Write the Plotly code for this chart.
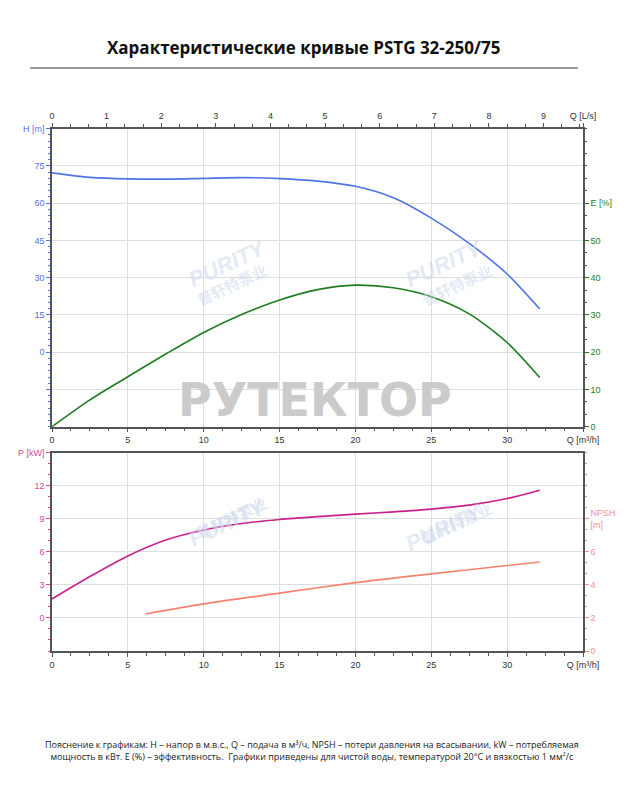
import plotly.graph_objects as go

# Данные кривых, Q в м³/ч
q_h = [0, 1.25, 2.5, 5, 7.5, 10, 12.5, 15, 17.5, 20, 22.5, 25, 27.5, 30, 32.15]
h_m = [72.2, 71.2, 70.4, 69.8, 69.7, 70.0, 70.3, 69.9, 68.9, 66.8, 62.2, 54.0, 43.8, 31.5, 17.4]

q_e = [0, 2.5, 5, 7.5, 10, 12.5, 15, 17.5, 20, 22.5, 25, 27.5, 30, 32.15]
eff = [0, 7.2, 13.4, 19.5, 25.3, 30.1, 34.0, 36.8, 38.0, 37.3, 34.9, 30.3, 22.6, 13.2]

q_p = [0, 2.5, 5, 7.5, 10, 12.5, 15, 17.5, 20, 22.5, 25, 27.5, 30, 32.15]
p_kw = [1.72, 3.76, 5.63, 7.07, 7.98, 8.58, 8.94, 9.2, 9.42, 9.63, 9.88, 10.24, 10.84, 11.6]

q_n = [6.16, 10, 15, 20, 25, 30, 32.15]
npsh = [2.24, 2.85, 3.5, 4.14, 4.67, 5.17, 5.39]

# Подписи осей
q_max = 35
q_ticks = [0, 5, 10, 15, 20, 25, 30, q_max]
q_text = ["0", "5", "10", "15", "20", "25", "30", "Q [m³/h]"]
qls_ticks = [0, 1, 2, 3, 4, 5, 6, 7, 8, 9, q_max / 3.6]
qls_text = ["0", "1", "2", "3", "4", "5", "6", "7", "8", "9", "Q [L/s]"]
h_ticks = [-15, 0, 15, 30, 45, 60, 75, 90]
h_text = ["", "0", "15", "30", "45", "60", "75", "H [m]"]
e_ticks = [0, 10, 20, 30, 40, 50, 60]
e_text = ["0", "10", "20", "30", "40", "50", "E [%]"]
p_ticks = [0, 3, 6, 9, 12, 15]
p_text = ["0", "3", "6", "9", "12", "P [kW]"]
n_ticks = [0, 2, 4, 6, 8]
n_text = ["0", "2", "4", "6", "NPSH<br>[m]"]

title = "Характеристические кривые PSTG 32-250/75"
note = ("Пояснение к графикам: H – напор в м.в.с., Q – подача в м³/ч, NPSH – потери давления на всасывании, kW – потребляемая<br>"
        "мощность в кВт. E (%) – эффективность.  Графики приведены для чистой воды, температурой 20°C и вязкостью 1 мм²/с")

W, H = 632, 800
def px(x):
    return x / W
def py(y):
    return 1 - y / H

BLUE = "#4f74e6"
GREEN = "#1f7d1f"
MAGENTA = "#c8208c"
SALMON = "#f4826f"
AX = "#555555"
GRID = "#dedede"
TF = "Liberation Sans Narrow, Liberation Sans, Arial"
WM = "rgba(205,216,236,0.55)"

fig = go.Figure()

fig.add_trace(go.Scatter(x=q_h, y=h_m, mode="lines", line=dict(color=BLUE, width=1.6, shape="spline", smoothing=0.8),
                         xaxis="x", yaxis="y", hoverinfo="skip"))
fig.add_trace(go.Scatter(x=q_e, y=eff, mode="lines", line=dict(color=GREEN, width=1.6, shape="spline", smoothing=0.8),
                         xaxis="x", yaxis="y2", hoverinfo="skip"))
fig.add_trace(go.Scatter(x=[q / 3.6 for q in q_h], y=h_m, mode="lines", line=dict(width=0), opacity=0,
                         xaxis="x2", yaxis="y", hoverinfo="skip"))
fig.add_trace(go.Scatter(x=q_p, y=p_kw, mode="lines", line=dict(color=MAGENTA, width=1.6, shape="spline", smoothing=0.8),
                         xaxis="x3", yaxis="y3", hoverinfo="skip"))
fig.add_trace(go.Scatter(x=q_n, y=npsh, mode="lines", line=dict(color=SALMON, width=1.6, shape="spline", smoothing=0.8),
                         xaxis="x3", yaxis="y4", hoverinfo="skip"))

dom_x = [px(52), px(583)]
dom_top = [py(426.7), py(128.7)]
dom_bot = [py(651), py(452.7)]

def xax(**kw):
    d = dict(domain=dom_x, range=[0, q_max], tickmode="array", tickvals=q_ticks, ticktext=q_text,
             showline=True, linecolor=AX, linewidth=1.5, ticks="outside", ticklen=4, tickcolor=AX,
             tickfont=dict(family=TF, size=9, color="#333333"), showgrid=True, gridcolor=GRID,
             gridwidth=1, zeroline=False, automargin=False,
             minor=dict(dtick=1.25, tick0=0, ticks="outside", ticklen=3, tickcolor=AX, showgrid=False))
    d.update(kw)
    return d

def yax(ticks, text, rng, color, dtick_minor, **kw):
    d = dict(range=rng, tickmode="array", tickvals=ticks, ticktext=text, showline=True, linecolor=AX,
             linewidth=1.5, ticks="outside", ticklen=4, tickcolor=color, automargin=False,
             tickfont=dict(family=TF, size=9, color=color), zeroline=False,
             minor=dict(dtick=dtick_minor, tick0=0, ticks="outside", ticklen=2, tickcolor=color, showgrid=False))
    d.update(kw)
    return d

fig.update_layout(
    width=W, height=H, margin=dict(l=0, r=0, t=0, b=0, autoexpand=False),
    paper_bgcolor="white", plot_bgcolor="white", showlegend=False,
    xaxis=xax(anchor="y"),
    xaxis2=dict(overlaying="x", anchor="y", side="top", domain=dom_x, range=[0, q_max / 3.6],
                tickmode="array", tickvals=qls_ticks, ticktext=qls_text, showline=True, linecolor=AX,
                linewidth=1.5, ticks="outside", ticklen=4, tickcolor=AX, showgrid=False, zeroline=False,
                tickfont=dict(family=TF, size=9, color="#333333"), automargin=False,
                minor=dict(dtick=1 / 3, tick0=0, ticks="outside", ticklen=3, tickcolor=AX)),
    yaxis=yax(h_ticks, h_text, [-30, 90], BLUE, 2.5, domain=dom_top, anchor="x",
              showgrid=True, gridcolor=GRID),
    yaxis2=yax(e_ticks, e_text, [0, 80], GREEN, 10 / 3, overlaying="y", side="right", anchor="x",
               showgrid=False),
    xaxis3=xax(anchor="y3", mirror=True),
    yaxis3=yax(p_ticks, p_text, [-3, 15], "#d24a9e", 1, domain=dom_bot, anchor="x3",
               showgrid=True, gridcolor=GRID),
    yaxis4=yax(n_ticks, n_text, [0, 12], "#f39385", 2 / 3, overlaying="y3", side="right", anchor="x3",
               showgrid=False),
)

ann = []
ann.append(dict(text="<b>" + title + "</b>", x=px(303), y=py(34), xref="paper", yref="paper",
                showarrow=False, font=dict(family="Open Sans, Liberation Sans", size=17, color="#111111")))
ann.append(dict(text=note, x=px(312), y=py(765), xref="paper", yref="paper", showarrow=False,
                align="center", font=dict(family="Open Sans, Liberation Sans", size=9, color="#222222")))
# водяные знаки
ann.append(dict(text="<b>РУТЕКТОР</b>", x=px(315), y=py(400), xref="paper", yref="paper", showarrow=False,
                font=dict(family="DejaVu Sans, Liberation Sans", size=46, color="#cbcbcb")))
for cx, cy in [(182, 232), (490, 232), (182, 522), (490, 527)]:
    ann.append(dict(text="<b><i>PURITY</i></b>", x=px(cx), y=py(cy), xref="paper", yref="paper",
                    showarrow=False, textangle=-25,
                    font=dict(family="Liberation Sans", size=22, color=WM)))
    ann.append(dict(text="<b>普轩特泵业</b>", x=px(cx + 8), y=py(cy + 24), xref="paper", yref="paper",
                    showarrow=False, textangle=-25,
                    font=dict(family="Noto Sans CJK SC", size=15, color=WM)))
fig.update_layout(annotations=ann)

fig.add_shape(type="line", xref="paper", yref="paper", x0=px(30), x1=px(578), y0=py(68), y1=py(68),
              line=dict(color="#333333", width=1))

# убираем стандартный отступ body, чтобы картинка легла в окно ровно
fig.write_html("out.html", config={"displayModeBar": False},
               post_script="document.body.style.margin='0';")
